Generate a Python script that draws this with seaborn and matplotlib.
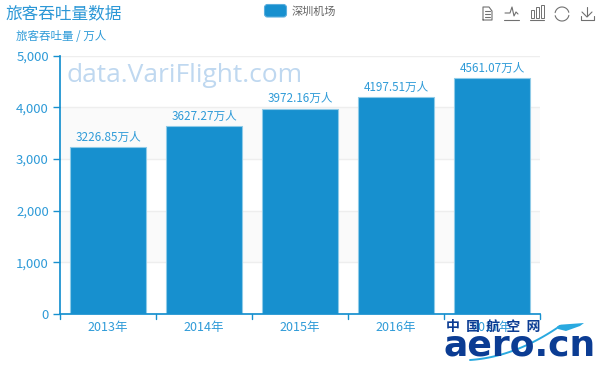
import matplotlib
matplotlib.use('Agg')
import matplotlib.pyplot as plt
import numpy as np
import pandas as pd
import seaborn as sns
from matplotlib.patches import FancyBboxPatch, Polygon, Rectangle

years = ['2013年', '2014年', '2015年', '2016年', '2017年']
passengers = [3226.85, 3627.27, 3972.16, 4197.51, 4561.07]
y_ticks = [0, 1000, 2000, 3000, 4000, 5000]

BLUE = '#1790cf'
TXT = '#2f9bd8'
ICON = '#707070'

sns.set_theme(style='white')
plt.rcParams['font.family'] = ['Noto Sans CJK SC', 'DejaVu Sans']

df = pd.DataFrame({'year': years, 'value': passengers})

fig = plt.figure(figsize=(6, 3.69), dpi=100)
ax = fig.add_axes([60 / 600, 1 - 314 / 369, 480 / 600, (314 - 55.5) / 369])

# alternating bands behind the bars
ax.axhspan(1000, 2000, color='#fafafa', zorder=0, lw=0)
ax.axhspan(3000, 4000, color='#fafafa', zorder=0, lw=0)

sns.barplot(data=df, x='year', y='value', color=BLUE, saturation=1, width=0.8,
            edgecolor='#8fcbe8', linewidth=0.8, ax=ax, zorder=2)

ax.set_xlim(-0.5, 4.5)
ax.set_ylim(0, 5000)
ax.set_xlabel('')
ax.set_ylabel('')
ax.set_yticks(y_ticks)
ax.set_yticklabels([f'{v:,}' for v in y_ticks])
ax.set_xticks(range(5))
ax.set_xticklabels(years)
ax.tick_params(axis='y', length=5, width=1, color=BLUE, labelcolor=TXT, labelsize=9.5, pad=3, left=True)
ax.tick_params(axis='x', length=0, labelcolor=TXT, labelsize=9, pad=5)
for edge in np.arange(-0.5, 5):
    ax.plot([edge, edge], [0, -0.02], transform=ax.get_xaxis_transform(), color=BLUE,
            lw=1, clip_on=False, zorder=3)

ax.grid(axis='y', color='#eeeeee', lw=1, zorder=1)
ax.set_axisbelow(True)
ax.spines['top'].set_visible(False)
ax.spines['right'].set_visible(False)
ax.spines['left'].set_color(BLUE)
ax.spines['bottom'].set_color(BLUE)

for i, v in enumerate(passengers):
    ax.annotate(f'{v:.2f}万人', (i, v), xytext=(0, 2.5), textcoords='offset points',
                ha='center', va='bottom', color=TXT, fontsize=8.4, zorder=4)

# overlay in pixel coordinates for titles, legend, toolbox, logo
ov = fig.add_axes([0, 0, 1, 1], zorder=5)
ov.set_xlim(0, 600)
ov.set_ylim(369, 0)
ov.axis('off')
ov.patch.set_alpha(0)

ov.text(5, 14, '旅客吞吐量数据', color='#2b97d6', fontsize=12, va='center', ha='left')
ov.text(16, 36, '旅客吞吐量 / 万人', color=TXT, fontsize=8.3, va='center', ha='left')
ov.text(66, 75, 'data.VariFlight.com', color='#bfd8f0', fontsize=19, va='center', ha='left',
        family='Open Sans', zorder=1)

ov.add_patch(FancyBboxPatch((264.5, 4.5), 22, 12.5, boxstyle='round,pad=0,rounding_size=3',
                            fc=BLUE, ec='#5aaedd', lw=0.8))
ov.text(292, 11.5, '深圳机场', color='#666666', fontsize=8, va='center', ha='left')

# toolbox icons
ic = dict(color=ICON, lw=0.8, solid_capstyle='round')
ov.plot([483, 483, 489, 492, 492, 483], [20, 7, 7, 11, 20, 20], **ic)
for yy in (11, 14, 17):
    ov.plot([485, 490], [yy, yy], **ic)
ov.plot([505, 510, 512, 514, 516, 518], [13, 13, 7, 16, 12, 14], **ic)
ov.plot([504, 519], [20, 20], **ic)
for xx, h in zip((532, 537, 542), (8, 11, 13)):
    ov.add_patch(Rectangle((xx - 1.5, 18 - h), 3, h, fc='none', ec=ICON, lw=0.7))
ov.plot([530, 544], [20, 20], **ic)
t = np.linspace(0.2, 2.9, 30)
ov.plot(562 + 7 * np.cos(t), 14 + 7 * np.sin(t), **ic)
ov.plot(562 + 7 * np.cos(t + np.pi), 14 + 7 * np.sin(t + np.pi), **ic)
ov.plot([587, 587], [7, 16], **ic)
ov.plot([582, 587, 592], [12, 17, 12], **ic)
ov.plot([581, 581, 594, 594], [16, 20, 20, 16], **ic)

# aero.cn logo
NAVY = '#0b3c93'
ov.text(493, 327, '中  国  航  空  网', color=NAVY, fontsize=10, fontweight='bold', va='center', ha='center')
ov.text(520, 345, 'aero.cn', color=NAVY, fontsize=26, fontweight='bold', va='center', ha='center',
        family='DejaVu Sans')
tt = np.linspace(0, 1, 40)
curve_x = 470 + 90 * tt
curve_y = 360 - 6 * tt - 28 * tt ** 2
ov.plot(curve_x, curve_y - 3, color='white', lw=2)
ov.plot(curve_x, curve_y, color='#29a9e0', lw=1.4)
ov.add_patch(Polygon([(556, 325), (584, 323), (580, 326), (566, 331), (558, 329)], fc='#29a9e0', ec='none'))

fig.savefig('out.png', dpi=100)
